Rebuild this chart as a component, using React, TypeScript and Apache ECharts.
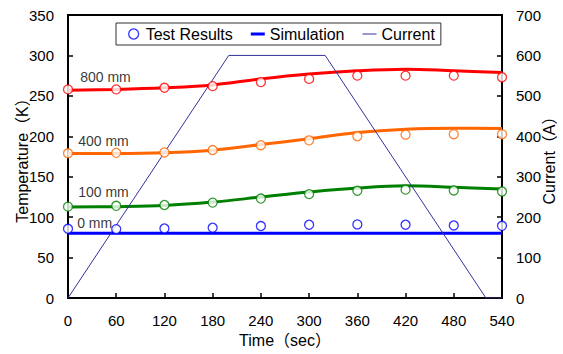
import React, { useEffect, useRef } from "react";
import * as echarts from "echarts";

const times = [0, 60, 120, 180, 240, 300, 360, 420, 480, 540];
const test0 = [85.6, 85.2, 86, 86.9, 89, 90.6, 91, 90.6, 89.7, 89.3];
const test100 = [113, 114, 115, 118, 123, 128.5, 132.6, 134, 133, 131.7];
const test400 = [179, 179.5, 180, 183, 189, 195, 200, 202, 202.6, 202.6];
const test800 = [258, 258, 260, 262, 267, 271, 275, 275, 275, 273];
const sim0 = [80, 80, 80, 80, 80, 80, 80, 80, 80, 80];
const sim100 = [112.4, 113, 114.4, 118.6, 124.8, 131, 136, 138.7, 137, 134.7];
const sim400 = [178.6, 178.6, 179.5, 182.8, 189.8, 197, 204.6, 208.8, 210, 209.5];
const sim800 = [257, 258, 260, 263.5, 271, 277, 281, 283, 281, 279];
const currentTimes = [0, 200, 320, 520, 540];
const currentValues = [0, 600, 600, 0, 0];
const depthLabels = ["0 mm", "100 mm", "400 mm", "800 mm"];
const colors = ["#0000ff", "#008000", "#ff6600", "#ff0000"];
const labelOffsets = [[-1, -6], [0, -15], [0, -12], [2, -12]];

const FONT = "'Liberation Sans', Arial, 'Noto Sans CJK JP', sans-serif";

export default function App() {
  const ref = useRef<HTMLDivElement>(null);
  useEffect(() => {
    if (!ref.current) return;
    const chart = echarts.init(ref.current, null, { renderer: "svg" });
    const pair = (ys: number[]) => times.map((t, i) => [t, ys[i]]);
    const sims = [sim0, sim100, sim400, sim800];
    const tests = [test0, test100, test400, test800];
    const series: any[] = [];
    sims.forEach((s, k) => {
      series.push({
        name: "Simulation",
        type: "line",
        data: pair(s),
        smooth: 0.35,
        symbol: "none",
        lineStyle: { color: colors[k], width: 3 },
        itemStyle: { color: colors[k] },
        z: 2,
      });
    });
    series.push({
      name: "Current",
      type: "line",
      yAxisIndex: 1,
      data: currentTimes.map((t, i) => [t, currentValues[i]]),
      symbol: "none",
      lineStyle: { color: "#333399", width: 1 },
      itemStyle: { color: "#333399" },
      z: 3,
    });
    tests.forEach((s, k) => {
      series.push({
        name: "Test Results",
        type: "scatter",
        symbol: "circle",
        symbolSize: 9,
        data: pair(s).map((p, i) =>
          i === 0
            ? {
                value: p,
                label: {
                  show: true,
                  formatter: depthLabels[k],
                  position: "right",
                  offset: labelOffsets[k],
                  color: "#000",
                  fontSize: 14,
                  fontFamily: FONT,
                },
              }
            : p
        ),
        itemStyle: { color: "#ffffff", borderColor: colors[k], borderWidth: 1.3 },
        z: 4,
      });
    });
    chart.setOption({
      animation: false,
      textStyle: { fontFamily: FONT },
      grid: {
        left: 68,
        right: 61,
        top: 15,
        bottom: 56,
        show: true,
        borderColor: "#000",
        borderWidth: 2,
        outerBoundsMode: "none",
      },
      legend: {
        data: [
          {
            name: "Test Results",
            icon: "circle",
            itemStyle: { color: "#fff", borderColor: "#0000ff", borderWidth: 1.3 },
          },
          {
            name: "Simulation",
            icon: "path://M0,0H14V3H0Z",
            itemStyle: { color: "#0000ff", borderWidth: 0 },
          },
          {
            name: "Current",
            icon: "path://M0,0H14V1H0Z",
            itemStyle: { color: "#333399", borderWidth: 0 },
          },
        ],
        left: 116,
        top: 23,
        padding: [3, 6, 3, 12],
        itemGap: 18,
        itemWidth: 14,
        itemHeight: 10,
        symbolKeepAspect: true,
        borderColor: "#333",
        borderWidth: 1,
        backgroundColor: "#fff",
        textStyle: { fontSize: 16, color: "#000", fontFamily: FONT },
      },
      xAxis: {
        type: "value",
        min: 0,
        max: 540,
        interval: 60,
        name: "Time（sec）",
        nameLocation: "middle",
        nameGap: 34,
        nameMoveOverlap: false,
        nameTextStyle: { fontSize: 16, color: "#000" },
        axisLine: { lineStyle: { color: "#000", width: 2 } },
        axisTick: { inside: true, length: 5, lineStyle: { color: "#000", width: 1.5 } },
        axisLabel: { fontSize: 15, color: "#000", margin: 15 },
        splitLine: { show: false },
      },
      yAxis: [
        {
          type: "value",
          min: 0,
          max: 350,
          interval: 50,
          name: "Temperature（K）",
          nameLocation: "middle",
          nameGap: 38,
          nameMoveOverlap: false,
          nameTextStyle: { fontSize: 16, color: "#000" },
          axisLine: { show: true, lineStyle: { color: "#000", width: 2 } },
          axisTick: { show: true, inside: true, length: 5, lineStyle: { color: "#000", width: 1.5 } },
          axisLabel: { fontSize: 15, color: "#000", margin: 14 },
          splitLine: { show: false },
        },
        {
          type: "value",
          min: 0,
          max: 700,
          interval: 100,
          position: "right",
          name: "Current（A）",
          nameLocation: "middle",
          nameGap: 39,
          nameRotate: 90,
          nameMoveOverlap: false,
          nameTextStyle: { fontSize: 16, color: "#000" },
          axisLine: { show: true, lineStyle: { color: "#000", width: 2 } },
          axisTick: { show: true, inside: true, length: 5, lineStyle: { color: "#000", width: 1.5 } },
          axisLabel: { fontSize: 15, color: "#000", margin: 14 },
          splitLine: { show: false },
        },
      ],
      series,
    });
    return () => chart.dispose();
  }, []);
  return (
    <div
      ref={ref}
      style={{ position: "fixed", left: 0, top: 0, width: 563, height: 354, background: "#fff" }}
    />
  );
}
